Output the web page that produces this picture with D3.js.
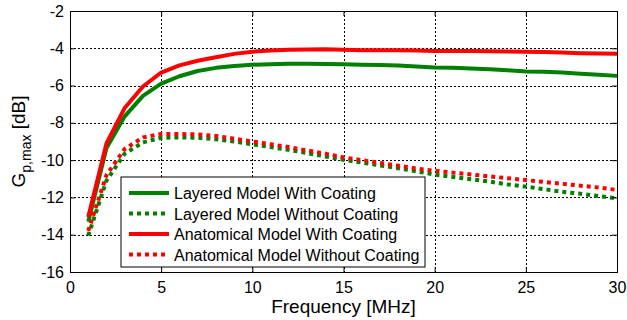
<!DOCTYPE html>
<html>
<head>
<meta charset="utf-8">
<script src="https://cdnjs.cloudflare.com/ajax/libs/d3/7.8.5/d3.min.js"></script>
<style>
  body { margin: 0; background: #fff; }
  svg { font-family: Arial, "Liberation Sans", sans-serif; }
</style>
</head>
<body>
<div id="chart"></div>
<script>
const freq = d3.range(1, 31);
const layeredCoat = [-13.3, -9.35, -7.65, -6.55, -5.9, -5.5, -5.22, -5.05, -4.95, -4.88, -4.85, -4.83, -4.83, -4.84, -4.86,
  -4.88, -4.9, -4.93, -4.98, -5.03, -5.05, -5.08, -5.13, -5.18, -5.24, -5.26, -5.3, -5.36, -5.42, -5.48];
const layeredNoCoat = [-14.05, -11.1, -9.65, -9.05, -8.8, -8.78, -8.8, -8.88, -9.0, -9.15, -9.3, -9.45, -9.62, -9.8, -9.98,
  -10.13, -10.28, -10.43, -10.6, -10.78, -10.9, -11.02, -11.15, -11.3, -11.42, -11.56, -11.7, -11.8, -11.93, -12.05];
const anatCoat = [-13.05, -9.1, -7.2, -6.05, -5.3, -4.92, -4.67, -4.48, -4.3, -4.18, -4.12, -4.08, -4.06, -4.05, -4.08,
  -4.1, -4.1, -4.1, -4.12, -4.14, -4.14, -4.15, -4.16, -4.17, -4.18, -4.2, -4.23, -4.26, -4.28, -4.29];
const anatNoCoat = [-13.8, -10.8, -9.4, -8.78, -8.6, -8.6, -8.62, -8.7, -8.85, -9.0, -9.15, -9.3, -9.48, -9.65, -9.85,
  -10.0, -10.15, -10.3, -10.45, -10.57, -10.67, -10.77, -10.87, -10.97, -11.07, -11.17, -11.27, -11.37, -11.47, -11.6];
const xTicks = [0, 5, 10, 15, 20, 25, 30];
const yTicks = [-16, -14, -12, -10, -8, -6, -4, -2];

const series = [
  { name: "Layered Model With Coating", values: layeredCoat, color: "#008000", dash: null },
  { name: "Layered Model Without Coating", values: layeredNoCoat, color: "#008000", dash: "4,4" },
  { name: "Anatomical Model With Coating", values: anatCoat, color: "#ff0000", dash: null },
  { name: "Anatomical Model Without Coating", values: anatNoCoat, color: "#ff0000", dash: "4,4" }
];

const W = 627, H = 320;
const m = { left: 70, right: 10, top: 11, bottom: 48 };

const svg = d3.select("#chart").append("svg").attr("width", W).attr("height", H);

const x = d3.scaleLinear().domain([0, 30]).range([m.left, W - m.right]);
const y = d3.scaleLinear().domain([-16, -2]).range([H - m.bottom, m.top]);

// grid
const grid = svg.append("g").attr("stroke", "#000").attr("stroke-width", 1).attr("stroke-dasharray", "2,2");
xTicks.slice(1, -1).forEach(t => {
  grid.append("line").attr("x1", Math.round(x(t)) + 0.5).attr("x2", Math.round(x(t)) + 0.5)
    .attr("y1", y(-2)).attr("y2", y(-16));
});
yTicks.slice(1, -1).forEach(t => {
  grid.append("line").attr("y1", Math.round(y(t)) + 0.5).attr("y2", Math.round(y(t)) + 0.5)
    .attr("x1", x(0)).attr("x2", x(30));
});

// lines
const line = d3.line().x((d, i) => x(freq[i])).y(d => y(d));
series.forEach(s => {
  svg.append("path").datum(s.values)
    .attr("d", line)
    .attr("fill", "none")
    .attr("stroke", s.color)
    .attr("stroke-width", 4)
    .attr("stroke-dasharray", s.dash)
    .attr("stroke-linejoin", "round");
});

// axes
const xAxis = svg.append("g").attr("transform", `translate(0,${y(-16)})`)
  .call(d3.axisBottom(x).tickValues(xTicks).tickSize(-5).tickPadding(10));
const yAxis = svg.append("g").attr("transform", `translate(${x(0)},0)`)
  .call(d3.axisLeft(y).tickValues(yTicks).tickSize(-5).tickPadding(6).tickFormat(d3.format("d")));
svg.append("g").attr("transform", `translate(0,${y(-2)})`)
  .call(d3.axisTop(x).tickValues(xTicks).tickSize(-5).tickFormat(""));
svg.append("g").attr("transform", `translate(${x(30)},0)`)
  .call(d3.axisRight(y).tickValues(yTicks).tickSize(-5).tickFormat(""));
svg.selectAll(".domain").attr("stroke", "#000");
svg.selectAll(".tick line").attr("stroke", "#000");
svg.selectAll(".tick text").attr("font-size", 16).attr("fill", "#000")
  .attr("font-family", "Arial, 'Liberation Sans', sans-serif");
yAxis.selectAll(".tick text").text(d => d3.format("d")(d).replace("\u2212", "-"));

// axis labels
svg.append("text").attr("x", (x(0) + x(30)) / 2).attr("y", 313)
  .attr("text-anchor", "middle").attr("font-size", 19).text("Frequency [MHz]");
const yl = svg.append("text").attr("transform", `translate(25,${(y(-2) + y(-16)) / 2}) rotate(-90)`)
  .attr("text-anchor", "middle").attr("font-size", 19);
yl.append("tspan").text("G");
yl.append("tspan").attr("font-size", 14).attr("dy", 6).text("p,max");
yl.append("tspan").attr("dy", -6).text(" [dB]");

// legend
const lg = svg.append("g").attr("transform", "translate(121,177)");
lg.append("rect").attr("width", 304).attr("height", 90)
  .attr("fill", "#fff").attr("stroke", "#000").attr("stroke-width", 1);
series.forEach((s, i) => {
  const yy = 16 + i * 20.5;
  lg.append("line").attr("x1", 8).attr("x2", 48).attr("y1", yy).attr("y2", yy)
    .attr("stroke", s.color).attr("stroke-width", 4).attr("stroke-dasharray", s.dash);
  lg.append("text").attr("x", 53).attr("y", yy + 6).attr("font-size", 16).text(s.name);
});
</script>
</body>
</html>
